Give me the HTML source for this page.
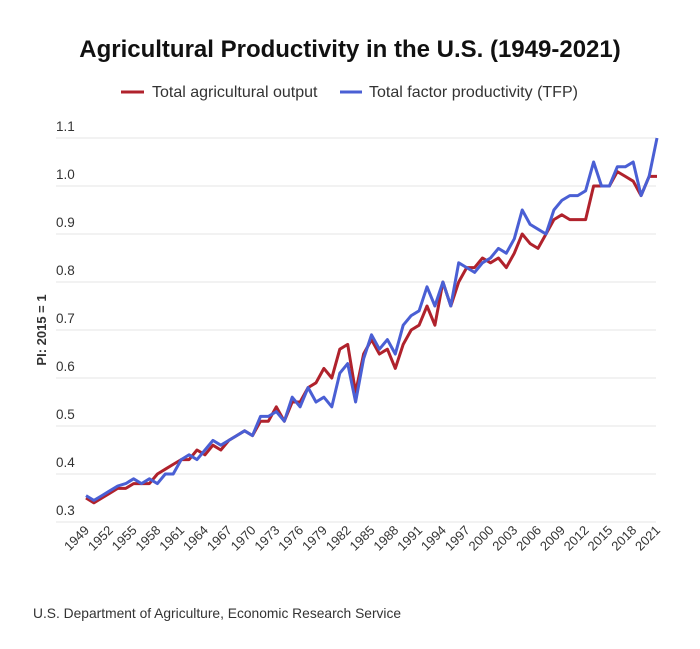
<!DOCTYPE html>
<html><head><meta charset="utf-8"><style>
body{margin:0;background:#fff;font-family:"Liberation Sans",sans-serif;}
</style></head><body>
<svg width="700" height="644" xmlns="http://www.w3.org/2000/svg" font-family="Liberation Sans, sans-serif">
<text x="350" y="57" text-anchor="middle" font-size="24" font-weight="bold" fill="#111">Agricultural Productivity in the U.S. (1949-2021)</text>
<line x1="121" y1="92" x2="144" y2="92" stroke="#b0222c" stroke-width="3"/>
<text x="152" y="97" font-size="16" fill="#333">Total agricultural output</text>
<line x1="340" y1="92" x2="362" y2="92" stroke="#4a5fd4" stroke-width="3"/>
<text x="369" y="97" font-size="16" fill="#333">Total factor productivity (TFP)</text>
<g id="grid" stroke="#e6e6e6" stroke-width="1"></g>
<g font-size="13.5" fill="#333">
<text x="56" y="131">1.1</text><text x="56" y="179">1.0</text><text x="56" y="227">0.9</text><text x="56" y="275">0.8</text>
<text x="56" y="323">0.7</text><text x="56" y="371">0.6</text><text x="56" y="419">0.5</text><text x="56" y="467">0.4</text><text x="56" y="515">0.3</text>
</g>
<text transform="translate(46,330) rotate(-90)" text-anchor="middle" font-size="13" font-weight="bold" fill="#333">PI: 2015 = 1</text>
<g id="xl" font-size="13" fill="#333"></g>
<polyline id="r" fill="none" stroke="#b0222c" stroke-width="3" stroke-linejoin="round"/>
<polyline id="b" fill="none" stroke="#4a5fd4" stroke-width="3" stroke-linejoin="round"/>
<text x="33" y="618" font-size="13.8" fill="#333">U.S. Department of Agriculture, Economic Research Service</text>
</svg>
<script>
var R=[.35,.34,.35,.36,.37,.37,.38,.38,.38,.40,.41,.42,.43,.43,.45,.44,.46,.45,.47,.48,.49,.48,.51,.51,.54,.51,.55,.55,.58,.59,.62,.60,.66,.67,.57,.65,.68,.65,.66,.62,.67,.70,.71,.75,.71,.80,.75,.80,.83,.83,.85,.84,.85,.83,.86,.90,.88,.87,.90,.93,.94,.93,.93,.93,1.00,1.00,1.00,1.03,1.02,1.01,.98,1.02,1.02];
var B=[.355,.345,.355,.365,.375,.38,.39,.38,.39,.38,.40,.40,.43,.44,.43,.45,.47,.46,.47,.48,.49,.48,.52,.52,.53,.51,.56,.54,.58,.55,.56,.54,.61,.63,.55,.64,.69,.66,.68,.65,.71,.73,.74,.79,.75,.80,.75,.84,.83,.82,.84,.85,.87,.86,.89,.95,.92,.91,.90,.95,.97,.98,.98,.99,1.05,1.00,1.00,1.04,1.04,1.05,.98,1.02,1.10];
function X(i){return 86+i*571/72}function Y(v){return 522-480*(v-0.3)}
function pts(a){return a.map(function(v,i){return X(i).toFixed(1)+","+Y(v).toFixed(1)}).join(" ")}
document.getElementById("r").setAttribute("points",pts(R));
document.getElementById("b").setAttribute("points",pts(B));
var ns="http://www.w3.org/2000/svg",g=document.getElementById("grid");
for(var k=0;k<9;k++){var l=document.createElementNS(ns,"line");var y=138+48*k;l.setAttribute("x1",56);l.setAttribute("x2",656);l.setAttribute("y1",y);l.setAttribute("y2",y);g.appendChild(l);}
var xl=document.getElementById("xl");
for(var yr=1949;yr<=2021;yr+=3){var t=document.createElementNS(ns,"text");var x=X(yr-1949)+4;t.setAttribute("transform","translate("+x+",531) rotate(-45)");t.setAttribute("text-anchor","end");t.textContent=yr;xl.appendChild(t);}
</script>
</body></html>
